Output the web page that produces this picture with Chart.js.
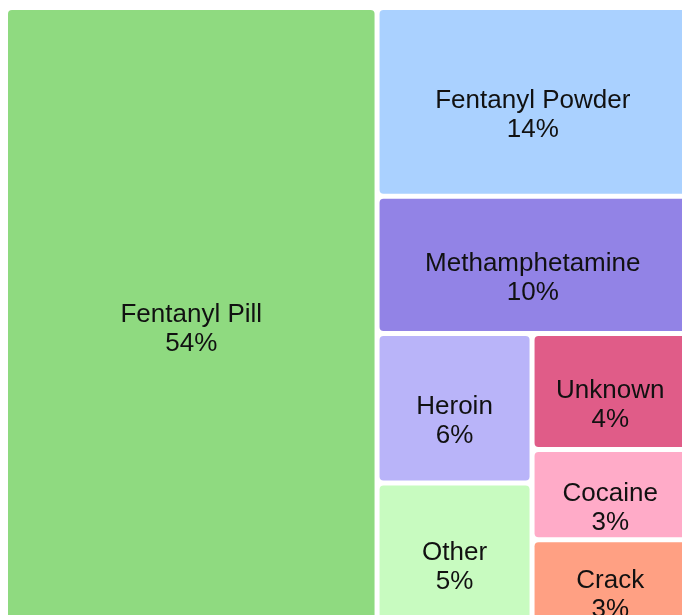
<!DOCTYPE html>
<html>
<head>
<meta charset="utf-8">
<script src="https://cdn.jsdelivr.net/npm/chart.js@4/dist/chart.umd.min.js"></script>
<style>
  html, body { margin: 0; padding: 0; overflow: hidden; background: #ffffff; }
  canvas { display: block; }
</style>
</head>
<body>
<canvas id="c" width="700" height="632"></canvas>
<script>
// ---- data ----
const categories = ['Fentanyl Pill', 'Fentanyl Powder', 'Methamphetamine', 'Heroin', 'Other', 'Unknown', 'Cocaine', 'Crack'];
const shares = [54.4, 13.95, 10.15, 5.5, 5.2, 4.3, 3.35, 3.15];   // percent of total
const colors = ['#8FDA80', '#AAD1FF', '#9283E6', '#B9B4F9', '#C8FBC0', '#E05C88', '#FFABC8', '#FFA083'];

// binary treemap tiling (split into halves of ~equal value along the longer side)
function binaryLayout(values, pxW, pxH) {
  const n = values.length;
  const sums = [0];
  for (let i = 0; i < n; i++) sums.push(sums[i] + values[i]);
  const out = new Array(n);
  function part(i, j, value, x0, y0, x1, y1) {
    if (i >= j - 1) { out[i] = { x0, y0, x1, y1 }; return; }
    const off = sums[i], target = value / 2 + off;
    let k = i + 1, hi = j - 1;
    while (k < hi) { const mid = (k + hi) >>> 1; if (sums[mid] < target) k = mid + 1; else hi = mid; }
    if ((target - sums[k - 1]) < (sums[k] - target) && i + 1 < k) --k;
    const vl = sums[k] - off, vr = value - vl;
    if ((x1 - x0) * pxW > (y1 - y0) * pxH) {
      const xk = (x0 * vr + x1 * vl) / value;
      part(i, k, vl, x0, y0, xk, y1); part(k, j, vr, xk, y0, x1, y1);
    } else {
      const yk = (y0 * vr + y1 * vl) / value;
      part(i, k, vl, x0, y0, x1, yk); part(k, j, vr, x0, yk, x1, y1);
    }
  }
  part(0, n, sums[n], 0, 0, 1, 1);
  return out;
}

const treemapPlugin = {
  id: 'treemapCells',
  afterDatasetsDraw(chart) {
    const ctx = chart.ctx;
    const xs = chart.scales.x, ys = chart.scales.y;
    const ca = chart.chartArea;
    const cells = binaryLayout(shares, ca.right - ca.left, ca.bottom - ca.top);
    const gap = 5;
    ctx.save();
    cells.forEach((r, i) => {
      const px0 = xs.getPixelForValue(r.x0) + gap / 2;
      const px1 = xs.getPixelForValue(r.x1) - gap / 2;
      const py0 = ys.getPixelForValue(r.y0) + gap / 2;
      const py1 = ys.getPixelForValue(r.y1) - gap / 2;
      ctx.fillStyle = colors[i];
      ctx.beginPath();
      ctx.roundRect(px0, py0, px1 - px0, py1 - py0, 4);
      ctx.fill();
      const cx = (px0 + px1) / 2, cy = (py0 + py1) / 2;
      ctx.fillStyle = '#111111';
      ctx.font = '26px "Liberation Sans", Arial, sans-serif';
      ctx.textAlign = 'center';
      ctx.textBaseline = 'alphabetic';
      ctx.fillText(categories[i], cx, cy + 6);
      ctx.fillText(Math.round(shares[i]) + '%', cx, cy + 35);
    });
    ctx.restore();
  }
};

new Chart(document.getElementById('c'), {
  type: 'scatter',
  data: { datasets: [{ label: 'share', data: [] }] },
  options: {
    responsive: false,
    animation: false,
    events: [],
    layout: { padding: { left: 5.5, top: 7.5, right: 11.5, bottom: 7.5 } },
    plugins: { legend: { display: false }, tooltip: { enabled: false } },
    scales: {
      x: { type: 'linear', min: 0, max: 1, display: false },
      y: { type: 'linear', min: 0, max: 1, reverse: true, display: false }
    }
  },
  plugins: [treemapPlugin]
});
</script>
</body>
</html>
